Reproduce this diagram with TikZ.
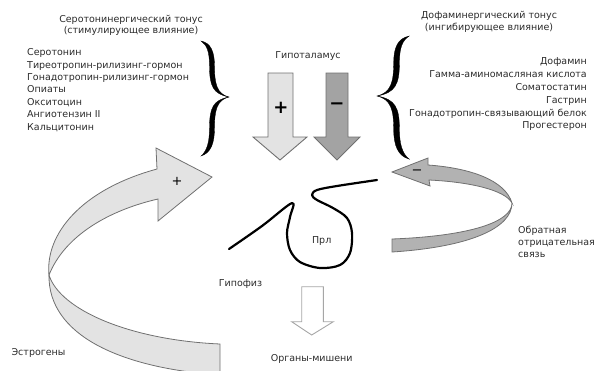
\documentclass[tikz,border=0pt]{standalone}
\usepackage{fontspec}
\setmainfont{DejaVu Sans}
\definecolor{tcol}{HTML}{2B2B2B}
\definecolor{lightg}{HTML}{E3E3E3}
\definecolor{darkg}{HTML}{A3A3A3}
\definecolor{fbg}{HTML}{B2B2B2}
\definecolor{edgec}{HTML}{707070}
\begin{document}
\begin{tikzpicture}[x=1pt,y=-1pt,
  txt/.style={font=\fontsize{9.5}{11}\selectfont, text=tcol, inner sep=0pt},
  sign/.style={font=\fontsize{18}{18}\selectfont\bfseries, text=black, inner sep=0pt},
  smallsign/.style={font=\fontsize{13}{13}\selectfont, text=black, inner sep=0pt},
  bigarrow/.style={draw=edgec, line width=0.9pt, line join=miter},
  bracefill/.style={fill=black, draw=black, line width=0.3pt}]
\useasboundingbox (0,0) rectangle (596,370);

% ---------- headings ----------
\node[txt, anchor=base] (serh1) at (131,22) {Серотонинергический тонус};
\node[txt, anchor=base] (serh2) at (131,33) {(стимулирующее влияние)};
\node[txt, anchor=base] (dofh1) at (489,18) {Дофаминергический тонус};
\node[txt, anchor=base] (dofh2) at (489,30) {(ингибирующее влияние)};

% ---------- left list ----------
\foreach \t [count=\i] in {Серотонин, Тиреотропин-рилизинг-гормон,
    Гонадотропин-рилизинг-гормон, Опиаты, Окситоцин, Ангиотензин II, Кальцитонин}
  \node[txt, anchor=base west] (sl\i) at (27, 43.3+12.4*\i) {\t};

% ---------- right list ----------
\foreach \t [count=\i] in {Дофамин, Гамма-аминомасляная кислота, Соматостатин,
    Гастрин, Гонадотропин-связывающий белок, Прогестерон}
  \node[txt, anchor=base east] (dl\i) at (587, 51.8+12.86*\i) {\t};

% ---------- braces ----------
\begin{scope}[shift={(229,97)}]
\path[bracefill] (-28,-56) .. controls (-18,-54) and (-14.5,-45) .. (-14.5,-31)
  .. controls (-14.5,-13) and (-12,-3) .. (0,0)
  .. controls (-12,3) and (-14.5,13) .. (-14.5,31)
  .. controls (-14.5,46) and (-18,56) .. (-28,59)
  .. controls (-22,54) and (-19.5,45) .. (-19.5,31)
  .. controls (-19.5,11) and (-16,3) .. (0,0)
  .. controls (-16,-3) and (-19.5,-11) .. (-19.5,-31)
  .. controls (-19.5,-45) and (-22,-52) .. (-28,-56) -- cycle;
\end{scope}
\begin{scope}[shift={(377,96)}, xscale=-1.15, yscale=1.07]
\path[bracefill] (-28,-56) .. controls (-18,-54) and (-14.5,-45) .. (-14.5,-31)
  .. controls (-14.5,-13) and (-12,-3) .. (0,0)
  .. controls (-12,3) and (-14.5,13) .. (-14.5,31)
  .. controls (-14.5,46) and (-18,56) .. (-28,59)
  .. controls (-22,54) and (-19.5,45) .. (-19.5,31)
  .. controls (-19.5,11) and (-16,3) .. (0,0)
  .. controls (-16,-3) and (-19.5,-11) .. (-19.5,-31)
  .. controls (-19.5,-45) and (-22,-52) .. (-28,-56) -- cycle;
\end{scope}

% ---------- hypothalamus ----------
\node[txt, anchor=base] (hyp) at (308,58) {Гипоталамус};
\path[bigarrow, fill=lightg] (268,73) -- (293,73) -- (293,137) -- (307,137)
  -- (280,160) -- (253,137) -- (268,137) -- cycle;
\path[bigarrow, fill=darkg] (326,73) -- (348,73) -- (348,137) -- (360,137)
  -- (337,160) -- (314,137) -- (326,137) -- cycle;
\node[sign] (plus1) at (281,108) {+};
\node[sign] (minus1) at (337,106) {−};

% ---------- left curved arrow (estrogens) ----------
\begin{scope}
\clip (0,0) rectangle (596,370);
\path[bigarrow, line width=0.8pt, fill=lightg] (49,275) .. controls (60,310) and (130,340) .. (220,344)
  -- (220,375) .. controls (120,368) and (48,335) .. (49,275) -- cycle;
\end{scope}
\path[bigarrow, line width=0.8pt, fill=lightg] (49,275) .. controls (45,235) and (80,190) .. (157,169)
  -- (156,148) -- (212,177) -- (158,221) -- (158,199)
  .. controls (110,210) and (65,235) .. (49,275) -- cycle;
\node[smallsign] (plus2) at (177,181) {+};

% ---------- right feedback arrow ----------
\path[bigarrow, line width=0.8pt, fill=fbg] (512,203) .. controls (512,222) and (470,236) .. (392,239)
  -- (392,252) .. controls (470,247) and (512,228) .. (512,203) -- cycle;
\path[bigarrow, line width=0.8pt, fill=fbg] (512,203) .. controls (505,180) and (470,168) .. (428,165)
  -- (428,158) -- (392,172) -- (430,186) -- (429,180)
  .. controls (470,182) and (505,190) .. (512,203) -- cycle;
\node[smallsign] (minus2) at (417,172) {−};

% ---------- pituitary squiggle ----------
\draw[line width=2.2pt, line cap=round, line join=round] plot[smooth, tension=0.55] coordinates {
  (229,249) (262,226) (292,203) (290,217) (287,233) (290,250) (300,262)
  (320,268) (340,265) (350,253) (352,233) (347,218) (333,208) (317,200)
  (312,195) (317,190) (337,186) (377,180)};
\node[txt, anchor=base] (prl) at (321.7,243) {Прл};
\node[txt, anchor=base] (gipofiz) at (240.5,286) {Гипофиз};

% ---------- target organs ----------
\path[draw=gray!70, line width=0.9pt, fill=white] (301.7,286.7) -- (323.3,286.7) -- (323.3,321.7)
  -- (333.3,321.7) -- (311.7,335) -- (291.7,321.7) -- (301.7,321.7) -- cycle;
\node[txt, anchor=base] (organs) at (311.7,361) {Органы-мишени};

% ---------- other labels ----------
\node[txt, anchor=base] (estr) at (38.5,355) {Эстрогены};
\node[txt, anchor=base west] (fb1) at (518,233) {Обратная};
\node[txt, anchor=base west] (fb2) at (518,245) {отрицательная};
\node[txt, anchor=base west] (fb3) at (518,257) {связь};
\end{tikzpicture}
\end{document}
